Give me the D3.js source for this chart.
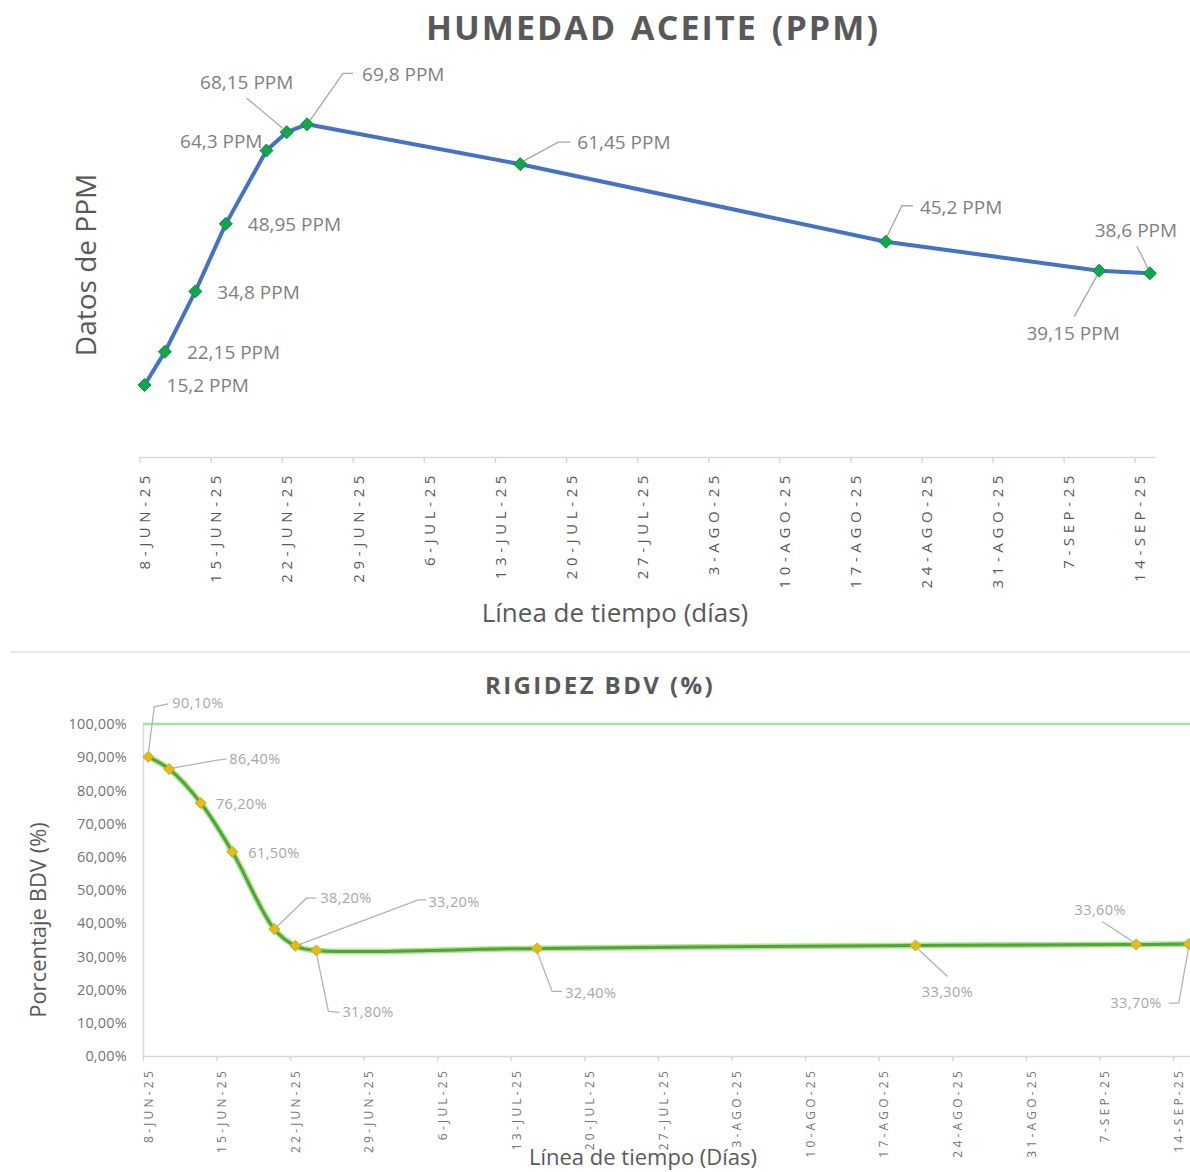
<!DOCTYPE html>
<html><head><meta charset="utf-8">
<script src="https://cdn.jsdelivr.net/npm/d3@7"></script>
<style>
body{margin:0;background:#fff}
text{font-family:"Open Sans",sans-serif}
</style></head>
<body><svg id="c" width="1190" height="1172"></svg>
<script>
// ---------- DATA ----------
const dates = ["2025-06-08","2025-06-10","2025-06-13","2025-06-16","2025-06-20","2025-06-22","2025-06-24","2025-07-15","2025-08-20","2025-09-10","2025-09-15"];
const ppm = [15.2,22.15,34.8,48.95,64.3,68.15,69.8,61.45,45.2,39.15,38.6];
const bdv = [90.1,86.4,76.2,61.5,38.2,33.2,31.8,32.4,33.3,33.6,33.7];
const bdvLimit = 100;
const monthsEs = ["ENE","FEB","MAR","ABR","MAY","JUN","JUL","AGO","SEP","OCT","NOV","DIC"];
const topTitle = "HUMEDAD ACEITE (PPM)";
const topYTitle = "Datos de PPM";
const topXTitle = "Línea de tiempo (días)";
const botTitle = "RIGIDEZ BDV (%)";
const botYTitle = "Porcentaje BDV (%)";
const botXTitle = "Línea de tiempo (Días)";
const bdvTicks = [0,10,20,30,40,50,60,70,80,90,100];

// ---------- LAYOUT (label placement relative to point) ----------
// [dx, dy, anchor, leader points...]
const topLabelLayout = [
  [22,0,"start",null],
  [22,1,"start",null],
  [22,1,"start",null],
  [22,0,"start",null],
  [-4,-9,"end",null],
  [-40,-50,"middle",[[-4,-4],[-40,-34]]],
  [55,-50,"start",[[3,-4],[36,-51],[46,-51]]],
  [57,-22,"start",[[3,-3],[38,-22],[50,-22]]],
  [34,-34,"start",[[0,-3],[16,-36],[27,-36]]],
  [-26,63,"middle",[[-1,3],[-25,46]]],
  [-14,-43,"middle",[[-1,-3],[-13,-27]]]
];
const botLabelLayout = [
  [24,-54,"start",[[0,-3],[6,-50],[20,-53]]],
  [60,-10,"start",[[3,-1],[48,-9],[57,-10]]],
  [15,1,"start",null],
  [16,1,"start",null],
  [46,-31,"start",[[2,-2],[32,-31],[42,-31]]],
  [133,-44,"start",[[3,-1],[123,-46],[131,-46]]],
  [26,62,"start",[[0,3],[12,61],[23,62]]],
  [28,44,"start",[[0,3],[15,43],[25,43]]],
  [32,46,"middle",[[2,3],[32,31]]],
  [-36,-35,"middle",[[-2,-2],[-34,-23]]],
  [-27,59,"end",[[0,3],[-10,59],[-20,59]]]
];

const svg = d3.select("#c");
const parse = d3.utcParse("%Y-%m-%d");
const D = dates.map(parse);
const start = parse("2025-06-08");
const end = parse("2025-09-16");
const mid = d => d3.utcHour.offset(d, 12);
const fmtDate = d => d.getUTCDate() + "-" + monthsEs[d.getUTCMonth()] + "-" + String(d.getUTCFullYear()).slice(2);
const weekTicks = d3.utcSunday.range(start, d3.utcDay.offset(end,1));
const diamond = r => `M0,${-r}L${r},0L0,${r}L${-r},0Z`;
const fmtPPM = v => String(v).replace(".", ",") + " PPM";
const fmtPct = v => v.toFixed(2).replace(".", ",") + "%";

// ================= TOP CHART =================
const xT = d3.scaleUtc().domain([start, end]).range([139.5, 1155]);
const yT = d3.scaleLinear().domain([0, 80]).range([457.6, 75.6]);

svg.append("text").attr("x", 653).attr("y", 28).attr("dy", "0.35em")
  .attr("text-anchor", "middle").attr("font-size", 34).attr("font-weight", 700)
  .attr("letter-spacing", 2.1).attr("word-spacing", 3).attr("fill", "#595959").text(topTitle);

const axT = svg.append("g").attr("transform", "translate(0,457)")
  .call(d3.axisBottom(xT).tickValues(weekTicks).tickFormat(fmtDate).tickSize(6).tickSizeOuter(0));
axT.select(".domain").attr("stroke", "#d9d9d9").attr("stroke-width", 1.5);
axT.selectAll(".tick line").attr("stroke", "#d9d9d9").attr("stroke-width", 1.5);
axT.selectAll(".tick text").attr("transform", "rotate(-90)")
  .attr("x", -14).attr("y", 5).attr("dy", "0.35em").attr("text-anchor", "end")
  .attr("font-size", 15).attr("letter-spacing", 4.6).attr("fill", "#595959")
  .attr("font-family", "Open Sans");

svg.append("text").attr("transform", "translate(86,265) rotate(-90)").attr("dy", "0.35em")
  .attr("text-anchor", "middle").attr("font-size", 28).attr("fill", "#595959").text(topYTitle);
svg.append("text").attr("x", 615).attr("y", 613).attr("dy", "0.35em")
  .attr("text-anchor", "middle").attr("font-size", 26).attr("fill", "#595959").text(topXTitle);

const ptsT = D.map((d, i) => [xT(mid(d)), yT(ppm[i])]);
svg.append("path").attr("d", d3.line()(ptsT)).attr("fill", "none")
  .attr("stroke", "#4472C4").attr("stroke-width", 4).attr("stroke-linejoin", "round");

ptsT.forEach((p, i) => {
  const L = topLabelLayout[i];
  if (L[3]) svg.append("path").attr("d", d3.line()(L[3].map(q => [p[0] + q[0], p[1] + q[1]])))
    .attr("fill", "none").attr("stroke", "#a6a6a6").attr("stroke-width", 1.3);
});
svg.append("g").selectAll("path").data(ptsT).join("path")
  .attr("transform", p => `translate(${p[0]},${p[1]})`).attr("d", diamond(6.5))
  .attr("fill", "#0fa84a").attr("stroke", "#0d8a3b").attr("stroke-width", 1);
ptsT.forEach((p, i) => {
  const L = topLabelLayout[i];
  svg.append("text").attr("x", p[0] + L[0]).attr("y", p[1] + L[1]).attr("dy", "0.35em")
    .attr("text-anchor", L[2]).attr("font-size", 19).attr("fill", "#7f7f7f").text(fmtPPM(ppm[i]));
});

// separator
svg.append("line").attr("x1", 10).attr("x2", 1190).attr("y1", 652).attr("y2", 652)
  .attr("stroke", "#e3e3e3").attr("stroke-width", 1.5);

// ================= BOTTOM CHART =================
const xB = d3.scaleUtc().domain([start, end]).range([143, 1194]);
const yB = d3.scaleLinear().domain([0, 100]).range([1056, 724]);

svg.append("text").attr("x", 600).attr("y", 686).attr("dy", "0.35em")
  .attr("text-anchor", "middle").attr("font-size", 24).attr("font-weight", 700)
  .attr("letter-spacing", 2.4).attr("fill", "#595959").text(botTitle);

const ayB = svg.append("g").attr("transform", "translate(143,0)")
  .call(d3.axisLeft(yB).tickValues(bdvTicks).tickFormat(fmtPct).tickSize(0).tickPadding(16));
ayB.select(".domain").attr("stroke", "#d9d9d9").attr("stroke-width", 1.5);
ayB.selectAll(".tick text").attr("font-size", 14.5).attr("letter-spacing", 0.2)
  .attr("fill", "#737373").attr("font-family", "Open Sans");

const axB = svg.append("g").attr("transform", "translate(0,1056)")
  .call(d3.axisBottom(xB).tickValues(weekTicks).tickFormat(fmtDate).tickSize(5).tickSizeOuter(0));
axB.select(".domain").attr("stroke", "#d9d9d9").attr("stroke-width", 1.5);
axB.selectAll(".tick line").attr("stroke", "#d9d9d9").attr("stroke-width", 1.5);
axB.selectAll(".tick text").attr("transform", "rotate(-90)")
  .attr("x", -12).attr("y", 5).attr("dy", "0.35em").attr("text-anchor", "end")
  .attr("font-size", 12).attr("letter-spacing", 3.2).attr("fill", "#737373")
  .attr("font-family", "Open Sans");

svg.append("line").attr("x1", xB.range()[0]).attr("x2", xB.range()[1])
  .attr("y1", yB(bdvLimit)).attr("y2", yB(bdvLimit))
  .attr("stroke", "#9fe3a6").attr("stroke-width", 2.5);

svg.append("text").attr("transform", "translate(38,920) rotate(-90)").attr("dy", "0.35em")
  .attr("text-anchor", "middle").attr("font-size", 22).attr("fill", "#595959").text(botYTitle);
svg.append("text").attr("x", 643).attr("y", 1157).attr("dy", "0.35em")
  .attr("text-anchor", "middle").attr("font-size", 22).attr("fill", "#595959").text(botXTitle);

const ptsB = D.map((d, i) => [xB(mid(d)), yB(bdv[i])]);
const lineB = d3.line().curve(d3.curveCatmullRom.alpha(0.5));
svg.append("path").attr("d", lineB(ptsB)).attr("fill", "none")
  .attr("stroke", "#b5e09c").attr("stroke-width", 6).attr("stroke-linejoin", "round");
svg.append("path").attr("d", lineB(ptsB)).attr("fill", "none")
  .attr("stroke", "#4ea72e").attr("stroke-width", 3).attr("stroke-linejoin", "round");

ptsB.forEach((p, i) => {
  const L = botLabelLayout[i];
  if (L[3]) svg.append("path").attr("d", d3.line()(L[3].map(q => [p[0] + q[0], p[1] + q[1]])))
    .attr("fill", "none").attr("stroke", "#b3b3b3").attr("stroke-width", 1.3);
});
svg.append("g").selectAll("path").data(ptsB).join("path")
  .attr("transform", p => `translate(${p[0]},${p[1]})`).attr("d", diamond(5.5))
  .attr("fill", "#f2b705").attr("stroke", "#8fbf3f").attr("stroke-width", 1);
ptsB.forEach((p, i) => {
  const L = botLabelLayout[i];
  svg.append("text").attr("x", p[0] + L[0]).attr("y", p[1] + L[1]).attr("dy", "0.35em")
    .attr("text-anchor", L[2]).attr("font-size", 14.5).attr("letter-spacing", 0.4)
    .attr("fill", "#a6a6a6").text(fmtPct(bdv[i]));
});
</script>
</body></html>
